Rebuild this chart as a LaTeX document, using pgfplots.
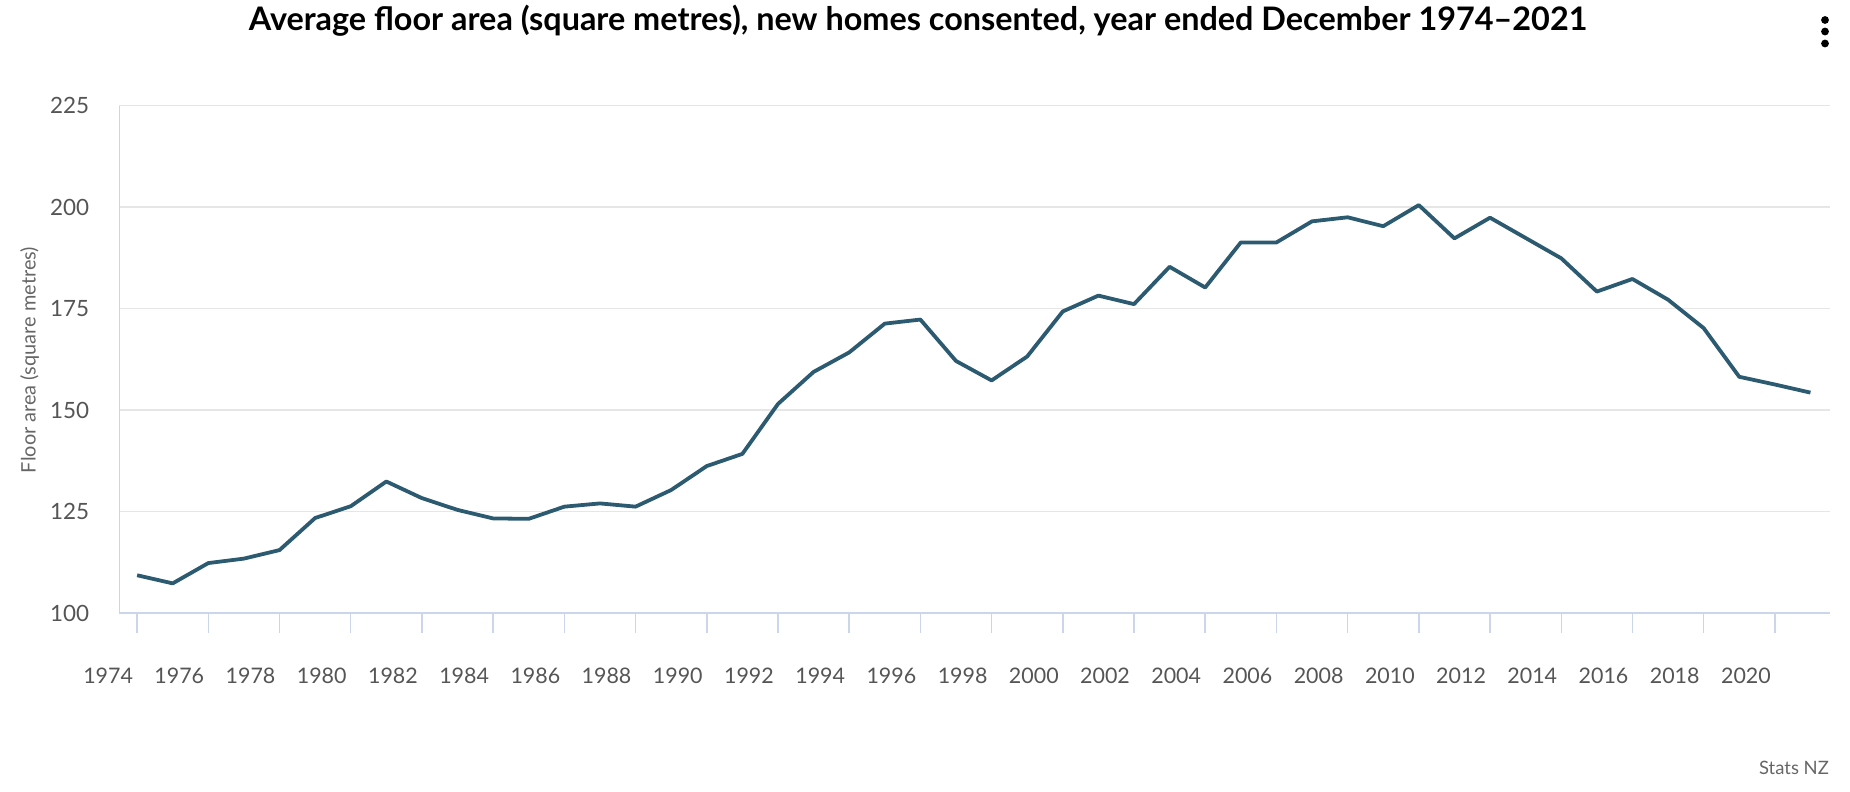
\documentclass[border=0pt]{standalone}
\usepackage{fontspec}
\setmainfont{Lato}
\usepackage{pgfplots}
\pgfplotsset{compat=1.18}
\definecolor{linecol}{RGB}{44,90,112}
\definecolor{axiscol}{HTML}{CCD6EB}
\definecolor{gridcol}{HTML}{E6E6E6}
\definecolor{tickcol}{HTML}{555555}
\definecolor{labcol}{HTML}{666666}
\begin{document}
\begin{tikzpicture}[x=1bp,y=1bp]
\useasboundingbox (0,0) rectangle (1850,792);
\begin{axis}[
  at={(119.3bp,179bp)}, anchor=south west,
  scale only axis, width=1710.7bp, height=507.3bp,
  xmin=1973.5, xmax=2021.55, ymin=100, ymax=225,
  axis lines=left,
  axis line style={-, draw=axiscol, line width=1.5bp},
  xtick={1974,1976,...,2020}, ytick={100,125,...,225},
  ymajorgrids, grid style={draw=gridcol, line width=1.5bp},
  tick align=outside, major tick length=20bp,
  xtick style={draw=axiscol, line width=1.5bp},
  ytick style={draw=none},
  /pgf/number format/assume math mode=true,
  /pgf/number format/1000 sep={},
  x tick label style={font=\fontsize{21.5}{25}\selectfont, text=tickcol, anchor=center, xshift=-29bp, yshift=-43bp},
  y tick label style={font=\fontsize{22.5}{27}\selectfont, text=tickcol, anchor=east, inner sep=0pt, xshift=-10bp},
  clip=false,
]
\addplot[linecol, line width=3.8bp, line join=round, mark=none] coordinates {
(1974,109.3) (1975,107.3) (1976,112.3) (1977,113.4) (1978,115.5) (1979,123.4)
(1980,126.3) (1981,132.4) (1982,128.3) (1983,125.4) (1984,123.3) (1985,123.2)
(1986,126.2) (1987,127.0) (1988,126.2) (1989,130.3) (1990,136.2) (1991,139.2)
(1992,151.5) (1993,159.4) (1994,164.2) (1995,171.3) (1996,172.3) (1997,162.1)
(1998,157.3) (1999,163.2) (2000,174.3) (2001,178.2) (2002,176.1) (2003,185.3)
(2004,180.2) (2005,191.3) (2006,191.3) (2007,196.5) (2008,197.5) (2009,195.3)
(2010,200.5) (2011,192.3) (2012,197.4) (2013,192.4) (2014,187.4) (2015,179.2)
(2016,182.3) (2017,177.2) (2018,170.2) (2019,158.2) (2020,156.3) (2021,154.3)
};
\end{axis}
\node[font=\bfseries\fontsize{32.5}{38}\selectfont, text=black] at (918,771) {Average floor area (square metres), new homes consented, year ended December 1974–2021};
\node[rotate=90, font=\fontsize{20}{24}\selectfont, text=labcol] at (29.5,432) {Floor area (square metres)};
\node[anchor=east, font=\fontsize{18.5}{22}\selectfont, text=labcol, inner sep=0pt] at (1829,24) {Stats NZ};
\fill[black] (1825,772) circle (3.9);
\fill[black] (1825,760.5) circle (3.9);
\fill[black] (1825,748.5) circle (3.9);
\end{tikzpicture}
\end{document}
